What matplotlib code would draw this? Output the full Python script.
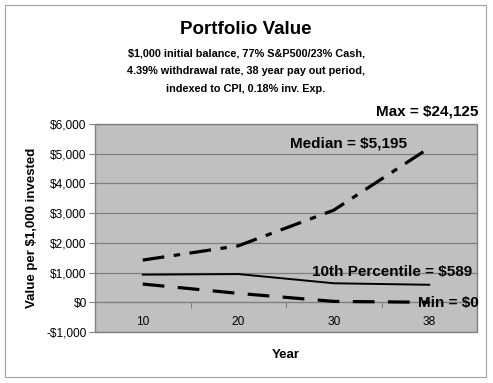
import matplotlib.pyplot as plt
import matplotlib.patches as mpatches
from matplotlib.ticker import FixedLocator, FuncFormatter

plt.rcParams['font.family'] = ['Liberation Sans', 'DejaVu Sans']

# data
years = ['10', '20', '30', '38']
median = [1420, 1900, 3100, 5195]
pct10 = [930, 950, 640, 589]
minimum = [614, 300, 30, 0]
yticks = [-1000, 0, 1000, 2000, 3000, 4000, 5000, 6000]

title = 'Portfolio Value'
subtitle = ['$1,000 initial balance, 77% S&P500/23% Cash,',
            '4.39% withdrawal rate, 38 year pay out period,',
            'indexed to CPI, 0.18% inv. Exp.']

fig = plt.figure(figsize=(4.93, 3.83), dpi=100)
fig.patch.set_facecolor('white')

# outer chart border
fig.patches.append(mpatches.Rectangle((5 / 493, 1 - 377 / 383), 481 / 493, 372 / 383,
                                      transform=fig.transFigure, fill=False,
                                      edgecolor='#a0a0a0', linewidth=0.8))

ax = fig.add_axes([95 / 493, 1 - 332 / 383, 382 / 493, 208 / 383])
ax.set_facecolor('#c0c0c0')
ax.patch.set_edgecolor('#808080')
ax.patch.set_linewidth(1.0)

x = list(range(len(years)))
ax.plot(x, median, color='black', lw=2.3, ls=(0, (6.8, 3, 2, 3)), zorder=3)
ax.plot(x, pct10, color='black', lw=1.4, zorder=3)
ax.plot(x, minimum, color='black', lw=2.3, ls=(0, (6.8, 4.2)), zorder=3)

ax.set_xlim(-0.5, 3.5)
ax.set_ylim(-1000, 6000)

for s in ['left', 'right', 'top']:
    ax.spines[s].set_visible(False)
ax.spines['bottom'].set_position(('data', 0))
ax.spines['bottom'].set_color('#808080')

ax.yaxis.set_major_locator(FixedLocator(yticks))
ax.yaxis.set_major_formatter(FuncFormatter(
    lambda v, p: ('-$' if v < 0 else '$') + '{:,.0f}'.format(abs(v))))
ax.tick_params(axis='y', length=4, color='#808080', labelsize=8.6, pad=2)
ax.grid(axis='y', color='#808080', lw=0.9)
ax.set_axisbelow(True)

ax.xaxis.set_major_locator(FixedLocator([0.5, 1.5, 2.5]))
ax.xaxis.set_major_formatter(FuncFormatter(lambda v, p: ''))
ax.xaxis.set_minor_locator(FixedLocator(x))
ax.set_xticklabels(years, minor=True)
ax.tick_params(axis='x', which='major', length=4, color='#808080', direction='out')
ax.tick_params(axis='x', which='minor', length=0, labelsize=8.6, pad=10)

ax.set_ylabel('Value per $1,000 invested', fontsize=9.5, fontweight='bold', labelpad=6)
fig.text(286 / 493, 1 - 355 / 383, 'Year', fontsize=9.5, fontweight='bold',
         ha='center', va='center')

fig.text(246 / 493, 1 - 29 / 383, title, fontsize=13.5, fontweight='bold',
         ha='center', va='center')
for i, line in enumerate(subtitle):
    fig.text(246 / 493, 1 - (53 + 18 * i) / 383, line, fontsize=7.8,
             fontweight='bold', ha='center', va='center')

# annotations
fig.text(348 / 493, 1 - 143 / 383, 'Median = $5,195', fontsize=11, fontweight='bold',
         ha='center', va='center')
fig.text(392 / 493, 1 - 272 / 383, '10th Percentile = $589', fontsize=11,
         fontweight='bold', ha='center', va='center')
fig.text(448 / 493, 1 - 303 / 383, 'Min = $0', fontsize=11, fontweight='bold',
         ha='center', va='center')
fig.text(427 / 493, 1 - 112 / 383, 'Max = $24,125', fontsize=11, fontweight='bold',
         ha='center', va='center')

fig.savefig('out.png', dpi=100)
